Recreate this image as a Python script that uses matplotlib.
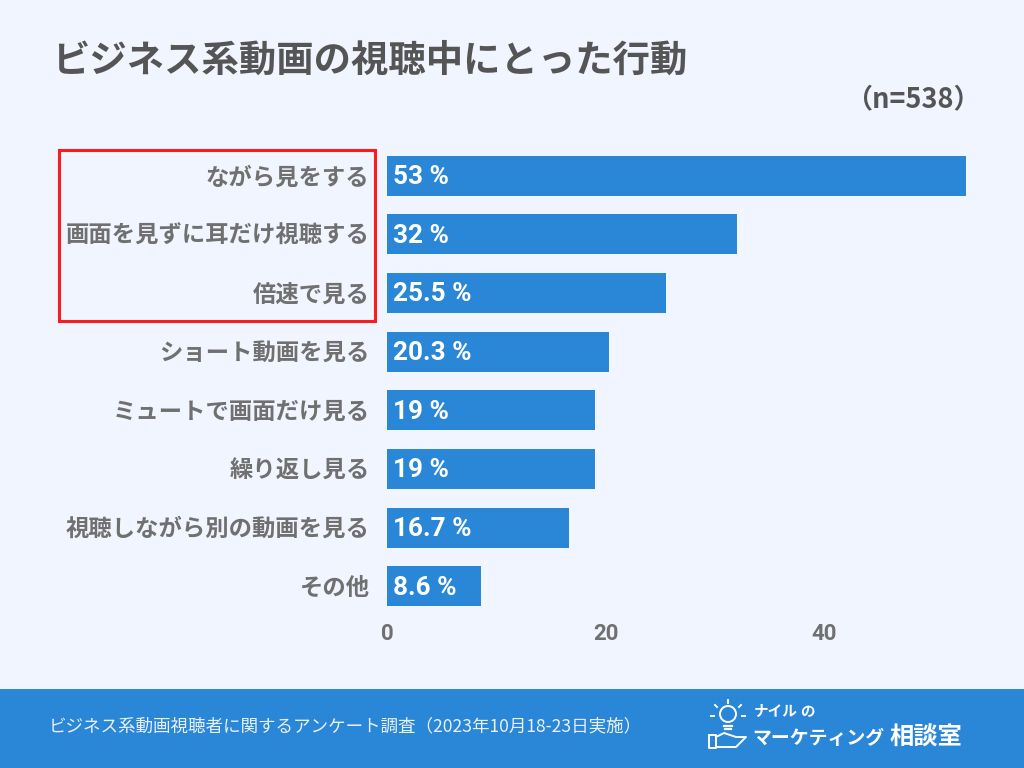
# Business video viewing survey chart

import matplotlib
matplotlib.use('Agg')
import matplotlib.pyplot as plt
from matplotlib.patches import Rectangle, Circle
from matplotlib.transforms import ScaledTranslation

plt.rcParams['font.family'] = ['Noto Sans CJK JP', 'DejaVu Sans']

labels = ['ながら見をする', '画面を見ずに耳だけ視聴する', '倍速で見る', 'ショート動画を見る',
          'ミュートで画面だけ見る', '繰り返し見る', '視聴しながら別の動画を見る', 'その他']
values = [53, 32, 25.5, 20.3, 19, 19, 16.7, 8.6]
xticks = [0, 20, 40]

BG = '#f0f5ff'
BLUE = '#2a86d6'
W, H = 1024, 768

fig = plt.figure(figsize=(10.24, 7.68), dpi=100, facecolor=BG)

# chart area
ax = fig.add_axes([387 / W, 1 - 615.5 / H, 580 / W, 469 / H], facecolor=BG)
ax.barh(range(len(values)), values, height=0.683, color=BLUE)
ax.set_ylim(len(values) - 0.5, -0.5)
ax.set_xlim(0, 53.1)
ax.set_yticks(range(len(labels)))
ax.set_yticklabels(labels, fontsize=16.8, fontweight='bold', color='#707070')
ax.set_xticks(xticks)
ax.tick_params(axis='x', length=0, pad=5.5, labelsize=16, labelcolor='#707070')
ax.tick_params(axis='y', length=0, pad=12.5)
for t in ax.get_xticklabels():
    t.set_fontweight('bold')
    t.set_family(['Roboto', 'DejaVu Sans'])
# nudge category labels up a pixel
nudge = ScaledTranslation(0, 1 / 100, fig.dpi_scale_trans)
for t in ax.get_yticklabels():
    t.set_transform(t.get_transform() + nudge)
for s in ax.spines.values():
    s.set_visible(False)
for i, v in enumerate(values):
    ax.annotate(f'{v} %', (0, i), xytext=(4.5, -1), textcoords='offset points', va='center',
                ha='left', color='white', fontsize=18.8, fontweight='bold',
                family=['Roboto', 'DejaVu Sans'])

# overlay in pixel coordinates for title, red box and footer
ov = fig.add_axes([0, 0, 1, 1], facecolor='none')
ov.set_xlim(0, W)
ov.set_ylim(H, 0)
ov.axis('off')

ov.text(52, 60, 'ビジネス系動画の視聴中にとった行動', fontsize=26.9, fontweight='bold',
        color='#555555', va='center', ha='left')
ov.text(981, 99, '（n=538）', fontsize=19.5, fontweight='bold', color='#555555',
        va='center', ha='right')
ov.add_patch(Rectangle((59, 150), 316, 170.5, fill=False, edgecolor='#ff1a1f', linewidth=2.2))

# footer
ov.add_patch(Rectangle((0, 689), W, 79, facecolor=BLUE, edgecolor='none'))
ov.text(49, 726, 'ビジネス系動画視聴者に関するアンケート調査（2023年10月18-23日実施）',
        fontsize=12.65, color='#e8f1fb', va='center', ha='left')

# logo
ov.text(754, 711, 'ナイル', fontsize=10.5, fontweight='bold', color='white', va='center')
ov.text(800, 711, 'の', fontsize=10.5, fontweight='bold', color='white', va='center')
ov.text(752, 738, 'マーケティング', fontsize=13.6, fontweight='bold', color='white', va='center')
ov.text(889, 738, '相談室', fontsize=17.5, fontweight='bold', color='white', va='center')
ov.add_patch(Circle((728, 714), 8, fill=False, edgecolor='white', linewidth=1.4))
ov.plot([724, 732], [726, 726], color='white', lw=1.6)
ov.plot([725, 731], [729, 729], color='white', lw=1.6)
for x0, y0, x1, y1 in [(728, 700, 728, 703), (715, 705, 717, 707), (741, 705, 739, 707),
                       (711, 716, 714, 716), (742, 716, 745, 716)]:
    ov.plot([x0, x1], [y0, y1], color='white', lw=1.4)
ov.plot([709, 709, 716, 716, 709], [735, 748, 748, 735, 735], color='white', lw=1.4)
ov.plot([716, 724, 736, 746, 736, 716], [737, 733, 737, 737, 747, 747], color='white', lw=1.4)

fig.savefig('out.png', dpi=100, facecolor=BG)
